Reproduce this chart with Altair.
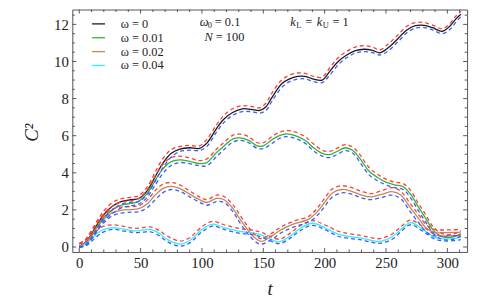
import altair as alt
import pandas as pd

# ---------------- data ----------------
labels = ["ω = 0", "ω = 0.01", "ω = 0.02", "ω = 0.04"]
colors = ["#1a1a1a", "#2fb52f", "#c08a55", "#30f0f5"]

t_b = [0, 5, 10, 15, 20, 27, 34, 42, 48, 55, 62, 68, 75, 82, 90, 98, 104, 112, 118, 125,
       133, 140, 147, 152, 157, 165, 171, 178, 184, 191, 198, 204, 211, 218, 225, 232, 239,
       245, 252, 260, 267, 274, 281, 288, 296, 302, 307, 311]
c_b = [0.05, 0.25, 0.7, 1.25, 1.75, 2.2, 2.45, 2.55, 2.6, 3.0, 3.8, 4.5, 5.05, 5.28, 5.35,
       5.32, 5.6, 6.4, 6.9, 7.25, 7.45, 7.42, 7.36, 7.55, 8.05, 8.8, 9.05, 9.2, 9.2, 9.05,
       9.0, 9.45, 10.0, 10.35, 10.58, 10.66, 10.6, 10.47, 10.75, 11.25, 11.7, 11.93, 11.95,
       11.82, 11.63, 11.9, 12.3, 12.55]
c_b_hi = [0.18, 0.4, 0.9, 1.45, 1.95, 2.4, 2.6, 2.68, 2.75, 3.2, 4.05, 4.75, 5.25, 5.42, 5.48,
          5.45, 5.8, 6.6, 7.1, 7.45, 7.62, 7.58, 7.5, 7.75, 8.3, 9.0, 9.25, 9.38, 9.36, 9.2,
          9.15, 9.65, 10.2, 10.55, 10.78, 10.85, 10.78, 10.62, 10.95, 11.45, 11.9, 12.1, 12.1,
          11.96, 11.76, 12.05, 12.45, 12.7]
c_b_lo = [0.0, 0.12, 0.5, 1.05, 1.55, 2.0, 2.3, 2.42, 2.45, 2.8, 3.55, 4.25, 4.85, 5.15, 5.22,
          5.2, 5.42, 6.2, 6.72, 7.1, 7.3, 7.3, 7.22, 7.35, 7.85, 8.6, 8.9, 9.05, 9.06, 8.92,
          8.86, 9.25, 9.82, 10.2, 10.45, 10.53, 10.48, 10.35, 10.58, 11.08, 11.55, 11.8, 11.83,
          11.7, 11.5, 11.72, 12.12, 12.42]

t_g = [0, 5, 10, 15, 20, 27, 34, 42, 48, 55, 62, 68, 75, 82, 90, 98, 104, 112, 118, 125, 131,
       138, 145, 150, 157, 163, 169, 176, 184, 191, 198, 204, 210, 217, 223, 229, 236, 243,
       250, 257, 264, 270, 276, 282, 288, 293, 298, 305, 311]
c_g = [0.05, 0.2, 0.65, 1.15, 1.6, 2.0, 2.25, 2.35, 2.45, 2.85, 3.6, 4.2, 4.6, 4.7, 4.62, 4.5,
       4.55, 5.1, 5.45, 5.82, 5.88, 5.75, 5.45, 5.45, 5.78, 6.0, 6.1, 6.0, 5.75, 5.35, 5.05,
       4.98, 5.15, 5.35, 5.2, 4.75, 4.1, 3.75, 3.5, 3.35, 3.25, 2.85, 2.2, 1.58, 0.95, 0.65,
       0.52, 0.55, 0.73]
c_g_hi = [0.18, 0.38, 0.85, 1.35, 1.8, 2.2, 2.42, 2.5, 2.6, 3.05, 3.85, 4.45, 4.82, 4.9, 4.8,
          4.66, 4.75, 5.28, 5.64, 6.02, 6.08, 5.95, 5.62, 5.62, 5.95, 6.18, 6.28, 6.2, 5.95,
          5.55, 5.22, 5.15, 5.32, 5.52, 5.38, 4.95, 4.3, 3.92, 3.66, 3.5, 3.42, 3.05, 2.4, 1.78,
          1.12, 0.82, 0.68, 0.7, 0.88]
c_g_lo = [0.0, 0.08, 0.45, 0.95, 1.4, 1.8, 2.1, 2.22, 2.3, 2.65, 3.35, 3.95, 4.4, 4.55, 4.5,
          4.38, 4.38, 4.88, 5.25, 5.65, 5.75, 5.62, 5.32, 5.3, 5.58, 5.85, 5.95, 5.85, 5.6,
          5.18, 4.9, 4.82, 4.98, 5.2, 5.05, 4.55, 3.9, 3.58, 3.35, 3.2, 3.1, 2.65, 2.0, 1.38,
          0.78, 0.5, 0.38, 0.42, 0.6]

t_o = [0, 5, 10, 15, 20, 27, 34, 42, 48, 55, 62, 68, 75, 82, 90, 98, 104, 112, 118, 125, 131,
       137, 143, 148, 157, 165, 175, 187, 194, 200, 206, 214, 222, 230, 238, 247, 255, 262,
       270, 277, 283, 290, 300, 311]
c_o = [0.05, 0.2, 0.6, 1.1, 1.5, 1.85, 1.97, 2.02, 2.05, 2.3, 2.8, 3.15, 3.27, 3.15, 2.85,
       2.55, 2.4, 2.62, 2.55, 2.1, 1.5, 0.95, 0.5, 0.3, 0.6, 0.95, 1.25, 1.5, 1.9, 2.4, 2.9,
       3.1, 3.0, 2.8, 2.7, 2.85, 2.98, 2.8, 2.1, 1.5, 1.0, 0.78, 0.78, 0.8]
c_o_hi = [0.18, 0.38, 0.8, 1.3, 1.7, 2.05, 2.15, 2.18, 2.22, 2.5, 3.05, 3.38, 3.48, 3.35, 3.02,
          2.7, 2.55, 2.8, 2.72, 2.3, 1.72, 1.15, 0.68, 0.45, 0.75, 1.1, 1.4, 1.65, 2.1, 2.62,
          3.12, 3.3, 3.2, 3.0, 2.88, 3.05, 3.2, 3.0, 2.32, 1.7, 1.18, 0.95, 0.92, 0.95]
c_o_lo = [0.0, 0.08, 0.42, 0.9, 1.3, 1.68, 1.82, 1.88, 1.9, 2.1, 2.55, 2.92, 3.1, 3.0, 2.7,
          2.42, 2.25, 2.45, 2.4, 1.92, 1.3, 0.75, 0.32, 0.15, 0.42, 0.78, 1.08, 1.35, 1.7,
          2.18, 2.68, 2.92, 2.85, 2.65, 2.55, 2.68, 2.8, 2.6, 1.88, 1.28, 0.8, 0.6, 0.6, 0.62]

t_c = [0, 5, 10, 15, 20, 28, 37, 45, 52, 58, 65, 72, 82, 90, 100, 109, 118, 130, 140, 148,
       155, 163, 172, 180, 190, 200, 211, 222, 230, 238, 245, 255, 263, 270, 280, 290, 300, 311]
c_c = [0.0, 0.15, 0.45, 0.75, 0.95, 1.05, 0.95, 0.87, 0.92, 0.95, 0.75, 0.4, 0.16, 0.35, 0.95,
       1.23, 1.05, 0.85, 0.77, 0.65, 0.45, 0.28, 0.6, 1.0, 1.28, 1.05, 0.69, 0.55, 0.48, 0.36,
       0.30, 0.55, 1.0, 1.32, 0.95, 0.52, 0.43, 0.52]
c_c_hi = [0.17, 0.3, 0.62, 0.92, 1.12, 1.2, 1.1, 1.0, 1.05, 1.08, 0.9, 0.58, 0.32, 0.5, 1.1,
          1.38, 1.2, 1.0, 0.92, 0.8, 0.6, 0.42, 0.75, 1.15, 1.42, 1.2, 0.85, 0.7, 0.62, 0.5,
          0.45, 0.7, 1.15, 1.45, 1.1, 0.68, 0.58, 0.66]
c_c_lo = [0.0, 0.05, 0.3, 0.6, 0.82, 0.95, 0.85, 0.78, 0.8, 0.82, 0.62, 0.28, 0.05, 0.22, 0.82,
          1.12, 0.95, 0.75, 0.68, 0.55, 0.35, 0.18, 0.48, 0.88, 1.17, 0.95, 0.58, 0.45, 0.38,
          0.26, 0.2, 0.42, 0.88, 1.2, 0.85, 0.42, 0.32, 0.4]

x_major = [0, 50, 100, 150, 200, 250, 300]
x_minor = [10, 20, 30, 40, 60, 70, 80, 90, 110, 120, 130, 140, 160, 170, 180, 190, 210, 220,
           230, 240, 260, 270, 280, 290, 310]
y_major = [0, 2, 4, 6, 8, 10, 12]
y_minor = [0.5, 1, 1.5, 2.5, 3, 3.5, 4.5, 5, 5.5, 6.5, 7, 7.5, 8.5, 9, 9.5, 10.5, 11, 11.5, 12.5]


def frame(t, vals, name):
    return pd.DataFrame({"t": t, "c": vals, "series": name})


solid = pd.concat([frame(t_b, c_b, labels[0]), frame(t_g, c_g, labels[1]),
                   frame(t_o, c_o, labels[2]), frame(t_c, c_c, labels[3])])
hi = pd.concat([frame(t_b, c_b_hi, labels[0]), frame(t_g, c_g_hi, labels[1]),
                frame(t_o, c_o_hi, labels[2]), frame(t_c, c_c_hi, labels[3])])
lo = pd.concat([frame(t_b, c_b_lo, labels[0]), frame(t_g, c_g_lo, labels[1]),
                frame(t_o, c_o_lo, labels[2]), frame(t_c, c_c_lo, labels[3])])

# ---------------- layout ----------------
W, H = 399, 245
FONT = "Liberation Serif, Times New Roman, DejaVu Serif, serif"
TXT = "#222222"
FRAME = "#555555"
INTERP = "catmull-rom"

xscale = alt.Scale(domain=[-5.65, 316.1], nice=False, zero=False)
yscale = alt.Scale(domain=[-0.267, 12.8], nice=False, zero=False)

x_axis = alt.Axis(values=x_major, ticks=False, domain=False, grid=False, labelFlush=False,
                  labelFont=FONT, labelFontSize=15, labelColor=TXT, labelPadding=4,
                  title="t", titleFont=FONT, titleFontSize=19, titleFontStyle="italic",
                  titleFontWeight="normal", titleColor=TXT, titleY=43,
                  titleBaseline="alphabetic")
y_axis = alt.Axis(values=y_major, ticks=False, domain=False, grid=False, labelFlush=False,
                  labelFont=FONT, labelFontSize=15, labelColor=TXT, labelPadding=4,
                  title="C²", titleFont=FONT, titleFontSize=19, titleFontStyle="italic",
                  titleFontWeight="normal", titleColor=TXT, titleX=-41, titleY=124,
                  titleAngle=270, titleAlign="center", titleBaseline="middle")

solid_layer = alt.Chart(solid).mark_line(strokeWidth=1.3, interpolate=INTERP, clip=True).encode(
    x=alt.X("t:Q", scale=xscale, axis=x_axis),
    y=alt.Y("c:Q", scale=yscale, axis=y_axis),
    color=alt.Color("series:N", scale=alt.Scale(domain=labels, range=colors),
                    legend=alt.Legend(title=None, orient="none", legendX=19, legendY=7,
                                      symbolType="stroke", symbolSize=169,
                                      symbolStrokeWidth=1.3, labelFont=FONT,
                                      labelFontSize=12.5, labelColor=TXT, labelOffset=15,
                                      rowPadding=0, padding=0, direction="vertical")),
)


def dashed(df, col):
    return alt.Chart(df).mark_line(color=col, strokeDash=[4, 3], strokeWidth=1.3,
                                   interpolate=INTERP, clip=True).encode(
        x=alt.X("t:Q", scale=xscale), y=alt.Y("c:Q", scale=yscale), detail="series:N")


red_layer = dashed(hi, "#ff3b3b")
blue_layer = dashed(lo, "#3a5cff")


def xticks(vals, length, top):
    df = pd.DataFrame({"t": vals})
    if top:
        y1, y2 = 0, length
    else:
        y1, y2 = H, H - length
    return alt.Chart(df).mark_rule(color=FRAME, strokeWidth=1).encode(
        x=alt.X("t:Q", scale=xscale), y=alt.value(y1), y2=alt.value(y2))


def yticks(vals, length, right):
    df = pd.DataFrame({"c": vals})
    if right:
        x1, x2 = W, W - length
    else:
        x1, x2 = 0, length
    return alt.Chart(df).mark_rule(color=FRAME, strokeWidth=1).encode(
        y=alt.Y("c:Q", scale=yscale), x=alt.value(x1), x2=alt.value(x2))


ticks = [xticks(x_major, 4, False), xticks(x_minor, 2.5, False),
         xticks(x_major, 4, True), xticks(x_minor, 2.5, True),
         yticks(y_major, 4, False), yticks(y_minor, 2.5, False),
         yticks(y_major, 4, True), yticks(y_minor, 2.5, True)]


def label(x, y, s, size=12.5, style="normal"):
    return alt.Chart(pd.DataFrame({"s": [s]})).mark_text(
        font=FONT, fontSize=size, fontStyle=style, color=TXT, align="left",
        baseline="alphabetic").encode(x=alt.value(x), y=alt.value(y), text="s:N")


notes = [
    label(128.7, 16.5, "ω", style="italic"),
    label(137, 18.5, "0", size=8.5),
    label(144, 16.5, "= 0.1"),
    label(133.7, 31.5, "N", style="italic"),
    label(145, 31.5, "= 100"),
    label(220.3, 16.5, "k", style="italic"),
    label(226.3, 19, "L", size=8.5),
    label(235.3, 16.5, "="),
    label(247, 16.5, "k", style="italic"),
    label(253, 19, "U", size=8.5),
    label(263, 16.5, "= 1"),
]

chart = alt.layer(solid_layer, red_layer, blue_layer, *ticks, *notes).properties(
    width=W, height=H, autosize=alt.AutoSizeParams(type="none"),
    padding={"left": 65, "top": 0, "right": 10, "bottom": 48},
).configure_view(stroke=FRAME, strokeWidth=1)

chart.save("out.html", embed_options={"renderer": "svg", "actions": False})
